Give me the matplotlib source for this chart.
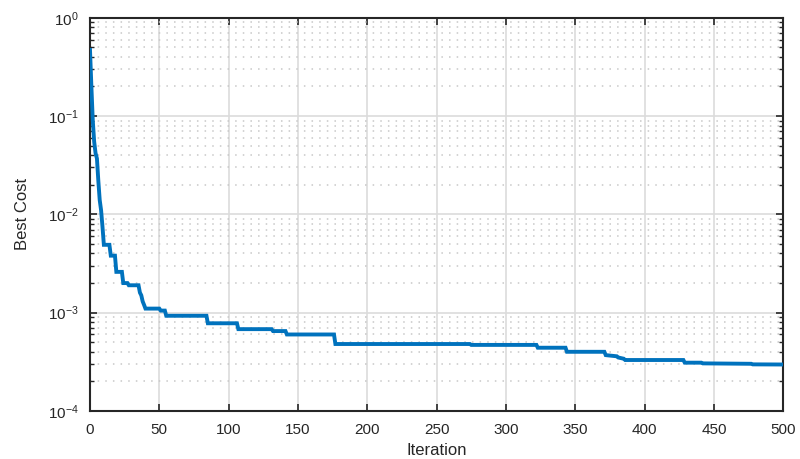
import numpy as np
import matplotlib
matplotlib.use('Agg')
import matplotlib.pyplot as plt
from matplotlib.ticker import LogLocator, FixedLocator

# best cost per iteration (flat stretches given by their end points)
iteration = [0, 1, 2, 3, 4, 5, 6, 7, 8, 9, 10, 14, 15, 18, 19, 23, 24, 27, 28,
             35, 36, 37, 38, 39, 40, 50, 51, 54, 55, 84, 85, 106, 107, 131, 132,
             141, 142, 176, 177, 274, 275, 322, 323, 343, 344, 371, 372, 380, 381,
             385, 386, 428, 429, 441, 442, 477, 478, 500]
best_cost = [0.47, 0.20, 0.09, 0.055, 0.042, 0.037, 0.022, 0.014, 0.011, 0.0075,
             0.0049, 0.0049, 0.0038, 0.0038, 0.0026, 0.0026, 0.0020, 0.0020, 0.0019,
             0.0019, 0.0016, 0.0015, 0.0013, 0.0012, 0.0011, 0.0011, 0.00105, 0.00105,
             0.00093, 0.00093, 0.00078, 0.00078, 0.00068, 0.00068, 0.00065, 0.00065,
             0.00060, 0.00060, 0.00048, 0.00048, 0.00047, 0.00047, 0.00044, 0.00044,
             0.00040, 0.00040, 0.00037, 0.00036, 0.00035, 0.00034, 0.00033, 0.00033,
             0.00031, 0.00031, 0.000305, 0.000302, 0.000298, 0.000297]

x_ticks = [0, 50, 100, 150, 200, 250, 300, 350, 400, 450, 500]

plt.rcParams['font.family'] = ['Liberation Sans', 'DejaVu Sans']
plt.rcParams['mathtext.fontset'] = 'custom'
plt.rcParams['mathtext.rm'] = 'Liberation Sans'

fig = plt.figure(figsize=(8, 4.59), dpi=100)
ax = fig.add_axes([0.1125, 0.1046, 0.8665, 0.8568])

ax.plot(iteration, best_cost, color='#0072BD', lw=2.8, solid_joinstyle='miter', zorder=3)

ax.set_yscale('log')
ax.set_xlim(0, 500)
ax.set_ylim(1e-4, 1)
ax.xaxis.set_major_locator(FixedLocator(x_ticks))
ax.yaxis.set_major_locator(LogLocator(base=10))
ax.yaxis.set_minor_locator(LogLocator(base=10, subs=np.arange(2, 10)))

ax.grid(True, which='major', color='#dcdcdc', lw=1.2, zorder=0)
ax.grid(True, which='minor', axis='y', color='#c8c8c8', lw=1.1, ls=(0, (1, 4)), zorder=0)

ax.tick_params(which='both', direction='in', top=True, right=True, color='#262626',
               labelsize=11, labelcolor='#262626')
ax.tick_params(which='major', length=5, width=1.2)
ax.tick_params(which='minor', length=3, width=1.0)
ax.tick_params(axis='y', pad=8)
ax.tick_params(axis='x', pad=9)
for s in ax.spines.values():
    s.set_color('#262626')
    s.set_linewidth(1.5)

ax.set_xlabel('Iteration', fontsize=12, color='#262626', labelpad=4)
ax.set_ylabel('Best Cost', fontsize=12, color='#262626', labelpad=13)

fig.savefig('out.png', dpi=100, facecolor='white')
